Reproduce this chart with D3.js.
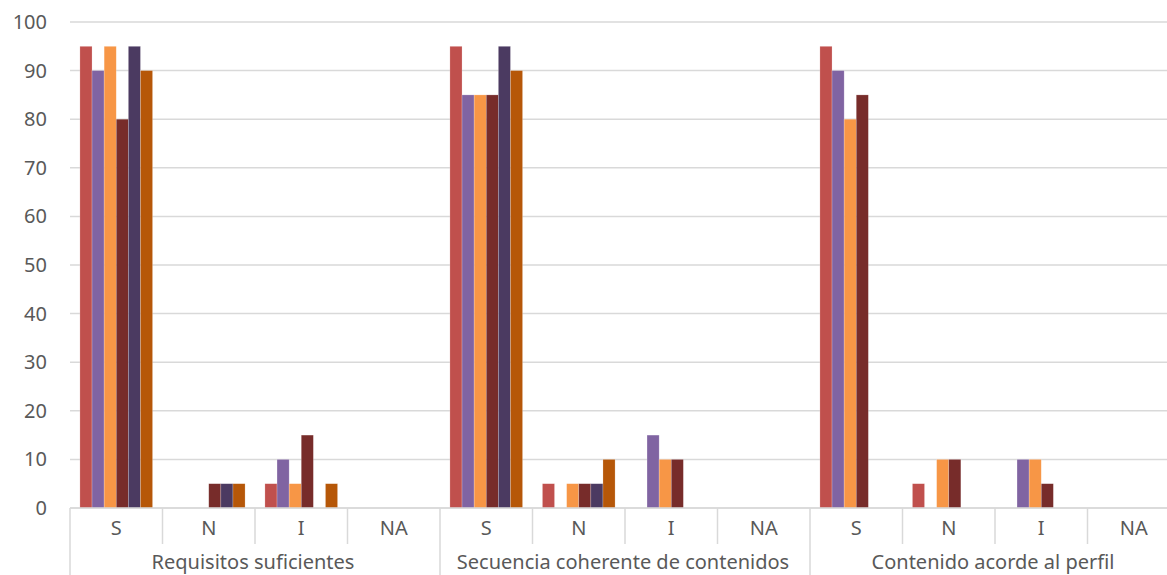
<!DOCTYPE html>
<html>
<head>
<meta charset="utf-8">
<script src="https://cdn.jsdelivr.net/npm/d3@7"></script>
<style>
  html, body { margin: 0; padding: 0; background: #fff; }
  svg { display: block; }
  text { font-family: "Noto Sans", "Open Sans", sans-serif; fill: #595959; }
</style>
</head>
<body>
<svg id="chart" width="1167" height="575"></svg>
<script>
// Criteria groups and the answer options inside each
const groups = ["Requisitos suficientes", "Secuencia coherente de contenidos", "Contenido acorde al perfil"];
const answers = ["S", "N", "I", "NA"];
const yTicks = [0, 10, 20, 30, 40, 50, 60, 70, 80, 90, 100];

// One array per series, 12 values each (group × answer)
const serie1 = [95, 0, 5, 0,   95, 5, 0, 0,   95, 5, 0, 0];
const serie2 = [90, 0, 10, 0,  85, 0, 15, 0,  90, 0, 10, 0];
const serie3 = [95, 0, 5, 0,   85, 5, 10, 0,  80, 10, 10, 0];
const serie4 = [80, 5, 15, 0,  85, 5, 10, 0,  85, 10, 5, 0];
const serie5 = [95, 5, 0, 0,   95, 5, 0, 0,   0, 0, 0, 0];
const serie6 = [90, 5, 5, 0,   90, 10, 0, 0,  0, 0, 0, 0];

const seriesNames = ["s1", "s2", "s3", "s4", "s5", "s6"];
const seriesValues = [serie1, serie2, serie3, serie4, serie5, serie6];
const colors = ["#C0504D", "#8064A2", "#F79646", "#772C2A", "#4B3A61", "#B65708"];

const svg = d3.select("#chart");
const m = { left: 70, right: 1180, top: 22, bottom: 508 };
const fontSize = "20px";

const slots = [];
groups.forEach((g, gi) => answers.forEach((a) => slots.push({ key: gi + "-" + a, g: gi, a })));

const x0 = d3.scaleBand().domain(slots.map(d => d.key)).range([m.left, m.right]).padding(0);
const x1 = d3.scaleBand().domain(seriesNames).range([0, x0.bandwidth()])
  .paddingInner(0).paddingOuter(0.82);
const y = d3.scaleLinear().domain([0, 100]).range([m.bottom, m.top]);

// Horizontal gridlines
svg.append("g").selectAll("line").data(yTicks).join("line")
  .attr("x1", m.left).attr("x2", m.right)
  .attr("y1", d => y(d)).attr("y2", d => y(d))
  .attr("stroke", "#d9d9d9").attr("stroke-width", 1.5);

// Y axis labels
const yAxis = svg.append("g").attr("transform", `translate(${m.left - 23},0)`)
  .call(d3.axisLeft(y).tickValues(yTicks).tickSize(0).tickPadding(0));
yAxis.select(".domain").remove();
yAxis.selectAll("text").style("font-size", fontSize).style("font-family", "'Noto Sans', sans-serif")
  .attr("fill", "#595959");

// Bars
const barG = svg.append("g");
seriesNames.forEach((s, si) => {
  barG.append("g").selectAll("rect")
    .data(slots.map((slot, i) => ({ slot, v: seriesValues[si][i] })).filter(d => d.v > 0))
    .join("rect")
    .attr("x", d => x0(d.slot.key) + x1(s))
    .attr("width", x1.bandwidth())
    .attr("y", d => y(d.v))
    .attr("height", d => y(0) - y(d.v))
    .attr("fill", colors[si])
    .attr("stroke", "#ffffff").attr("stroke-opacity", 0.35).attr("stroke-width", 0.6);
});

// Category axis line
svg.append("line").attr("x1", m.left).attr("x2", m.right)
  .attr("y1", m.bottom).attr("y2", m.bottom)
  .attr("stroke", "#d9d9d9").attr("stroke-width", 1.5);

// Dividers between answer slots and between groups
const divG = svg.append("g");
slots.forEach((slot, i) => {
  const xx = x0(slot.key);
  const isGroupStart = i % answers.length === 0;
  divG.append("line").attr("x1", xx).attr("x2", xx)
    .attr("y1", m.bottom).attr("y2", isGroupStart ? 575 : 544)
    .attr("stroke", "#d9d9d9").attr("stroke-width", 1.5);
});
divG.append("line").attr("x1", m.right).attr("x2", m.right)
  .attr("y1", m.bottom).attr("y2", 575).attr("stroke", "#d9d9d9").attr("stroke-width", 1.5);

// Answer labels
svg.append("g").selectAll("text").data(slots).join("text")
  .attr("x", d => x0(d.key) + x0.bandwidth() / 2)
  .attr("y", 535)
  .attr("text-anchor", "middle")
  .style("font-size", fontSize)
  .text(d => d.a);

// Group labels
svg.append("g").selectAll("text").data(groups).join("text")
  .attr("x", (d, i) => {
    const a = x0(i + "-" + answers[0]);
    const b = x0(i + "-" + answers[answers.length - 1]) + x0.bandwidth();
    return (a + b) / 2 - 2;
  })
  .attr("y", 569)
  .attr("text-anchor", "middle")
  .style("font-size", fontSize)
  .text(d => d);
</script>
</body>
</html>
